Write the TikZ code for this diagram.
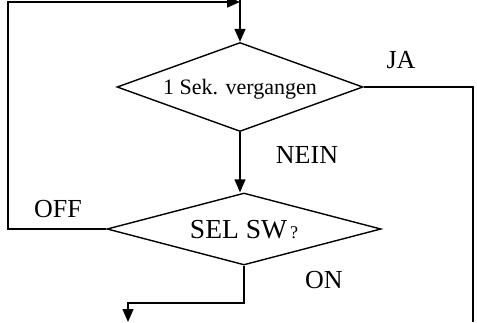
\documentclass[tikz,border=0pt]{standalone}
\usepackage{fontspec}
\setmainfont{Liberation Serif}
\usetikzlibrary{shapes.geometric,arrows.meta}
\begin{document}
\begin{tikzpicture}[
        x=1pt, y=-1pt,
        line width=1.4pt,
        decision/.style={diamond, draw, inner sep=0pt, text height=#1, text depth=0pt},
        lbl/.style={anchor=base, inner sep=0pt, font=\fontsize{26}{28}\selectfont},
        tip/.style={-{Triangle[length=13pt,width=11pt]}},
        ]
        \useasboundingbox (0,0) rectangle (477,322);
        % Decisions
        \node[decision=15pt, aspect=2.76, minimum width=246pt, minimum height=89pt,
              font=\fontsize{22}{24}\selectfont] (sek) at (240,87) {1 Sek. vergangen};
        \node[decision=18pt, aspect=3.8, minimum width=274pt, minimum height=72pt,
              font=\fontsize{27.5}{30}\selectfont] (sel) at (244,229) {SEL SW\hspace{3pt}{\fontsize{18}{20}\selectfont ?}};
        % Free ends and corners
        \coordinate (intop) at (240,0);
        \coordinate (ja) at (473,87);
        \coordinate (jaend) at (473,322);
        \coordinate (off) at (8,229);
        \coordinate (loop) at (8,2);
        \coordinate (on) at (244,303);
        \coordinate (onend) at (128,322);
        % Labels
        \node[lbl] (lja) at (401,68) {JA};
        \node[lbl] (lnein) at (307,163) {NEIN};
        \node[lbl] (loff) at (58,217) {OFF};
        \node[lbl] (lon) at (324,288) {ON};
        % Connectors
        \draw[tip] (intop) -- (sek.north);
        \draw[tip] (sel.west) -- (off) -- (loop) -- (intop |- loop);
        \draw (sek.east) -- (ja) -- (jaend);
        \draw[tip] (sek.south) -- (sek.south |- sel.north);
        \draw[tip] (sel.south) -- (on) -| (onend);
    \end{tikzpicture}
\end{document}
